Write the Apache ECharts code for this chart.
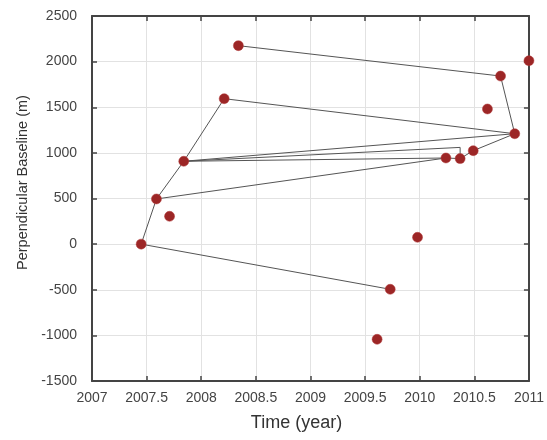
<!DOCTYPE html>
<html><head><meta charset="utf-8">
<script src="https://cdn.jsdelivr.net/npm/echarts@6/dist/echarts.min.js"></script>
<style>html,body{margin:0;padding:0;background:#fff}#c{width:547px;height:440px}</style>
</head><body><div id="c"></div>
<script>
// acquisition times (decimal year) and perpendicular baselines (m)
const times     = [2007.45, 2007.59, 2007.71, 2007.84, 2008.21, 2008.34, 2009.61, 2009.73, 2009.98, 2010.24, 2010.37, 2010.49, 2010.62, 2010.74, 2010.87, 2011.00];
const baselines = [0,       495,     305,     908,     1594,    2175,    -1043,   -495,    75,      944,     937,     1024,    1481,    1842,    1210,    2010];
// interferometric pairs (indices into the arrays above)
const pairs = [[0,1],[1,3],[3,4],[4,14],[5,13],[13,14],[3,14],[3,9],[1,9],[9,10],[10,11],[11,14],[0,7]];
// one pair drawn with a corner: from, to, baseline of the corner
const cornerPairs = [[3,10,1060]];
const xTicks = [2007, 2007.5, 2008, 2008.5, 2009, 2009.5, 2010, 2010.5, 2011];
const yTicks = [-1500, -1000, -500, 0, 500, 1000, 1500, 2000, 2500];

const pts = times.map((t,i)=>[t, baselines[i]]);
const lineData = pairs.map(p=>({coords:[pts[p[0]], pts[p[1]]]}))
  .concat(cornerPairs.map(c=>({coords:[pts[c[0]], [times[c[1]], c[2]], pts[c[1]]]})));

const font = 'Liberation Sans, Arial, sans-serif';
const axisCol = '#444';
const chart = echarts.init(document.getElementById('c'), null, {renderer:'canvas'});
chart.setOption({
  animation:false,
  backgroundColor:'#fff',
  grid:{left:92, right:18, top:16, bottom:59},
  xAxis:[{
    type:'value', min:xTicks[0], max:xTicks[xTicks.length-1], interval:0.5,
    name:'Time (year)', nameLocation:'middle', nameGap:33,
    nameTextStyle:{fontFamily:font, fontSize:18, color:'#333', padding:[0,28,0,0]},
    axisLine:{show:true, onZero:false, lineStyle:{color:axisCol, width:2}},
    axisTick:{show:true, inside:true, length:5, lineStyle:{color:axisCol, width:1.5}},
    axisLabel:{fontFamily:font, fontSize:14, color:'#444', margin:10, formatter:v=>String(v)},
    splitLine:{show:true, lineStyle:{color:'#e2e2e2', width:1}}
  },{
    type:'value', position:'top', min:xTicks[0], max:xTicks[xTicks.length-1], interval:0.5,
    axisLine:{show:true, onZero:false, lineStyle:{color:axisCol, width:2}},
    axisTick:{show:true, inside:true, length:5, lineStyle:{color:axisCol, width:1.5}},
    axisLabel:{show:false}, splitLine:{show:false}
  }],
  yAxis:[{
    type:'value', min:yTicks[0], max:yTicks[yTicks.length-1], interval:500,
    name:'Perpendicular Baseline (m)', nameLocation:'middle', nameGap:59, nameRotate:90,
    nameTextStyle:{fontFamily:font, fontSize:14.5, color:'#333', padding:[0,0,0,32]},
    axisLine:{show:true, onZero:false, lineStyle:{color:axisCol, width:2}},
    axisTick:{show:true, inside:true, length:5, lineStyle:{color:axisCol, width:1.5}},
    axisLabel:{fontFamily:font, fontSize:14, color:'#444', margin:15, formatter:v=>String(v)},
    splitLine:{show:true, lineStyle:{color:'#e2e2e2', width:1}}
  },{
    type:'value', position:'right', min:yTicks[0], max:yTicks[yTicks.length-1], interval:500,
    axisLine:{show:true, onZero:false, lineStyle:{color:axisCol, width:2}},
    axisTick:{show:true, inside:true, length:5, lineStyle:{color:axisCol, width:1.5}},
    axisLabel:{show:false}, splitLine:{show:false}
  }],
  series:[{
    type:'lines', coordinateSystem:'cartesian2d', xAxisIndex:0, yAxisIndex:0,
    polyline:true, silent:true, z:2,
    lineStyle:{color:'#555', width:1, opacity:1},
    data:lineData
  },{
    type:'scatter', xAxisIndex:0, yAxisIndex:0, z:3, clip:false,
    symbol:'circle', symbolSize:10,
    itemStyle:{color:'#9c2626', borderColor:'#b33a3a', borderWidth:0.5, opacity:1},
    data:pts
  }]
});
</script></body></html>
